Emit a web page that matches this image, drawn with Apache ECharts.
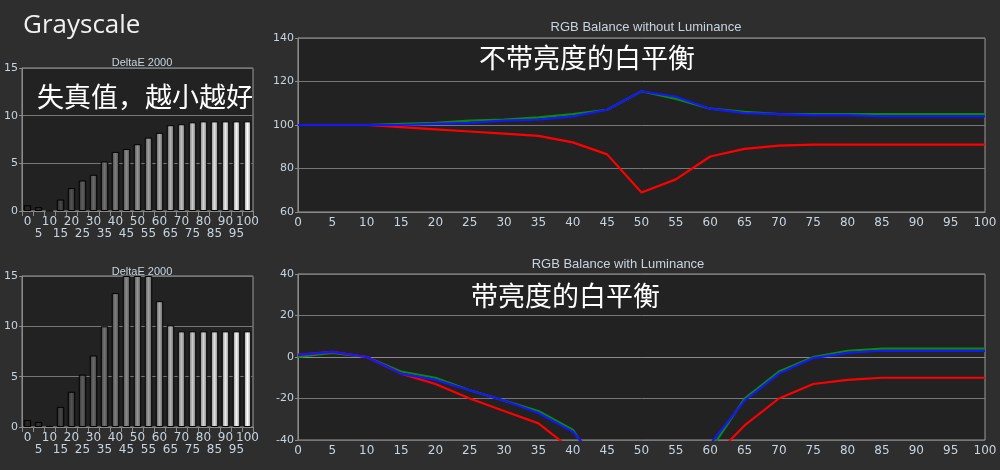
<!DOCTYPE html>
<html><head><meta charset="utf-8">
<script src="https://cdn.jsdelivr.net/npm/echarts@6/dist/echarts.min.js"></script>
<style>html,body{margin:0;background:#2e2e2e}#c{width:1000px;height:470px}</style>
</head><body><div id="c"></div>
<script>
var levels = ['0','5','10','15','20','25','30','35','40','45','50','55','60','65','70','75','80','85','90','95','100'];
var deltaTop = [0.6,0.4,0,1.2,2.4,3.2,3.8,5.2,6.2,6.5,7,7.7,8.2,9,9.1,9.3,9.4,9.4,9.4,9.4,9.4];
var deltaBottom = [0.7,0.5,0.1,2,3.5,5.2,7.1,10,13.3,15,15,15,12.5,10.1,9.5,9.5,9.5,9.5,9.5,9.5,9.5];
var redTop = [100,100,100,99,98,97,96,95,92,86.5,69,75,85.5,89,90.5,91,91,91,91,91,91];
var greenTop = [100,100,100,100.5,101,102,102.5,103.5,105,107,115.5,112,107.5,106,105,105,105,105,105,105,105];
var blueTop = [100,100,100,100,100.5,101,102,102.5,104,107,115.5,113,107.5,105.5,105,104.5,104.5,104,104,104,104];
var redBot = [1,2.5,0,-8,-13,-20,-26,-32,-45,-60,-60,-60,-50,-33,-20,-13,-11,-10,-10,-10,-10];
var greenBot = [0,2,0,-7,-10,-16,-21,-26,-35,-60,-60,-60,-45,-20,-7,0,3,4,4,4,4];
var blueBot = [1,2.5,0,-8,-11,-16,-21,-27,-36,-55,-60,-60,-42,-21,-8,-0.5,2,3,3,3,3];

var chart = echarts.init(document.getElementById('c'));
var txt = '#c8d4e0', grid = '#8a8a8a';
function barColor(i) {
  var g = Math.round(40 + i * 215 / 20);
  var d = Math.round(g * 0.55);
  return new echarts.graphic.LinearGradient(0, 0, 1, 0, [
    {offset: 0, color: 'rgb(' + d + ',' + d + ',' + d + ')'},
    {offset: 0.5, color: 'rgb(' + g + ',' + g + ',' + g + ')'},
    {offset: 1, color: 'rgb(' + d + ',' + d + ',' + d + ')'}]);
}
function barData(arr) {
  return arr.map(function (v, i) { return {value: v, itemStyle: {color: barColor(i)}}; });
}
var grids = [
  {left: 22, top: 68, width: 231, height: 143},
  {left: 22, top: 276, width: 231, height: 151},
  {left: 298, top: 38, width: 687, height: 174},
  {left: 298, top: 274, width: 687, height: 166}
];
var xAxes = [], yAxes = [];
grids.forEach(function (g, k) {
  var isBar = k < 2;
  xAxes.push({
    type: 'category', gridIndex: k, data: levels, boundaryGap: isBar,
    axisLine: {lineStyle: {color: grid}}, axisTick: {show: isBar, lineStyle: {color: grid}},
    axisLabel: {color: txt, fontSize: 12, fontFamily: 'DejaVu Sans', interval: 0, margin: 5,
      formatter: isBar ? function (v, i) { return i % 2 ? '\n' + v : v; } : null}
  });
  yAxes.push({
    type: 'value', gridIndex: k,
    min: isBar ? 0 : (k === 2 ? 60 : -40), max: isBar ? 15 : (k === 2 ? 140 : 40),
    interval: isBar ? 5 : 20,
    axisLine: {show: true, lineStyle: {color: grid}}, axisTick: {show: true, length: 3, lineStyle: {color: grid}},
    axisLabel: {color: txt, fontSize: 11, fontFamily: 'DejaVu Sans', margin: 4},
    splitLine: {lineStyle: {color: '#777'}}
  });
});
function line(data, color, k) {
  return {type: 'line', xAxisIndex: k, yAxisIndex: k, data: data, symbol: 'none', clip: true,
    lineStyle: {color: color, width: 2.2}, itemStyle: {color: color}};
}
grids.forEach(function (g) { g.backgroundColor = '#222'; g.show = true; g.borderColor = '#999'; });
chart.setOption({
  backgroundColor: '#2e2e2e',
  animation: false,
  grid: grids,
  xAxis: xAxes,
  yAxis: yAxes,
  title: [
    {text: 'Grayscale', left: 18, top: 8, textStyle: {color: '#f0f0f0', fontSize: 26, fontWeight: 'normal', fontFamily: 'Open Sans'}},
    {text: 'DeltaE 2000', left: 137, top: 52, textAlign: 'center', textStyle: {color: txt, fontSize: 11, fontWeight: 'normal'}},
    {text: 'DeltaE 2000', left: 137, top: 261, textAlign: 'center', textStyle: {color: txt, fontSize: 11, fontWeight: 'normal'}},
    {text: 'RGB Balance without Luminance', left: 641, top: 16, textAlign: 'center', textStyle: {color: txt, fontSize: 13, fontWeight: 'normal'}},
    {text: 'RGB Balance with Luminance', left: 613, top: 253, textAlign: 'center', textStyle: {color: txt, fontSize: 13, fontWeight: 'normal'}},
    {text: '失真值，越小越好', left: 32, top: 78, textStyle: {color: '#fff', fontSize: 27, fontWeight: 'normal', fontFamily: 'Noto Sans CJK SC'}},
    {text: '不带亮度的白平衡', left: 474, top: 39, textStyle: {color: '#fff', fontSize: 27, fontWeight: 'normal', fontFamily: 'Noto Sans CJK SC'}},
    {text: '带亮度的白平衡', left: 466, top: 277, textStyle: {color: '#fff', fontSize: 27, fontWeight: 'normal', fontFamily: 'Noto Sans CJK SC'}}
  ],
  series: [
    {type: 'bar', xAxisIndex: 0, yAxisIndex: 0, data: barData(deltaTop), barWidth: '68%', itemStyle: {borderColor: '#000', borderWidth: 1}},
    {type: 'bar', xAxisIndex: 1, yAxisIndex: 1, data: barData(deltaBottom), barWidth: '68%', itemStyle: {borderColor: '#000', borderWidth: 1}},
    line(greenTop, '#0a8a0a', 2), line(redTop, '#ff0000', 2), line(blueTop, '#1515ff', 2),
    line(greenBot, '#0a8a0a', 3), line(redBot, '#ff0000', 3), line(blueBot, '#1515ff', 3)
  ]
});
</script></body></html>
